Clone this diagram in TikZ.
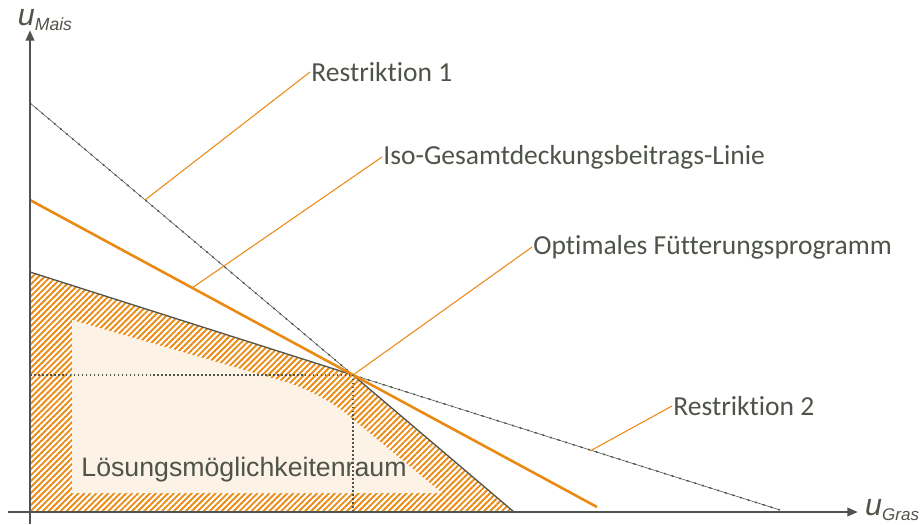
\documentclass[tikz,border=0pt]{standalone}
\usepackage{fontspec}
\setmainfont{Carlito}[Ligatures=NoCommon]
\newfontfamily\arialfont{Liberation Sans}
\usetikzlibrary{arrows.meta,patterns.meta}
\definecolor{axisgray}{HTML}{4F544C}
\definecolor{textgray}{HTML}{4E5449}
\definecolor{hatchorange}{HTML}{EB8A12}
\definecolor{creamfill}{HTML}{FDF2E6}
\begin{document}
\begin{tikzpicture}[x=0.03cm, y=-0.03cm,
    axis/.style={line width=2.2pt, axisgray, -{Triangle[length=9pt, width=7pt]}},
    bound/.style={axisgray, line width=1.1pt},
    restr/.style={axisgray, line width=0.5pt},
    restrdots/.style={axisgray, line width=1.4pt, line cap=round, dash pattern=on 0.8pt off 6pt},
    leader/.style={hatchorange, line width=0.9pt},
    tagtext/.style={anchor=west, textgray, inner sep=1pt, font=\fontsize{23.5}{26}\selectfont}]
    \useasboundingbox (0, 0) rectangle (923, 524);
    % feasible region
    \fill[pattern={Lines[angle=45, distance=3.6pt, line width=1.6pt]}, pattern color=hatchorange]
        (30, 272) -- (353, 375) -- (514, 512) -- (30, 512) -- cycle;
    \fill[creamfill] (72, 320) [rounded corners=30pt] -- (320, 392) [sharp corners] -- (442, 493) -- (72, 493) -- cycle;
    % restrictions
    \draw[bound] (30, 272) -- (353, 375) -- (514, 512);
    \draw[restr] (30, 103) -- (353, 375);
    \draw[restrdots] (30, 103) -- (353, 375);
    \draw[restr] (353, 375) -- (780, 510);
    \draw[restrdots] (353, 375) -- (780, 510);
    % iso line
    \draw[hatchorange, line width=2.2pt] (30, 200) -- (597, 507);
    % optimum
    \coordinate (opt) at (353, 375);
    \draw[axisgray, line width=1.4pt, dotted] (30, 375) -- (opt) -- (353, 512);
    % axes
    \coordinate (origin) at (30, 512);
    \draw[axis] (8, 512) -- (858, 512);
    \draw[axis] (30, 524) -- (30, 30);
    \node[textgray, font=\arialfont\itshape, inner sep=0pt] (ymais) at (45, 20)
        {\fontsize{26}{26}\selectfont u\raisebox{-5pt}{\fontsize{15}{15}\selectfont Mais}};
    \node[textgray, font=\arialfont\itshape, inner sep=0pt, anchor=west] (xgras) at (865, 510)
        {\fontsize{26}{26}\selectfont u\raisebox{-5pt}{\fontsize{14.5}{15}\selectfont Gras}};
    % labels
    \node[tagtext] (r1) at (310, 72) {Restriktion 1};
    \node[tagtext] (iso) at (382, 157) {Iso-Gesamtdeckungsbeitrags-Linie};
    \node[tagtext] (optlab) at (532, 247) {Optimales Fütterungsprogramm};
    \node[tagtext] (r2) at (672, 406) {Restriktion 2};
    \coordinate (r1foot) at (145, 200);
    \coordinate (isofoot) at (192, 288);
    \coordinate (r2foot) at (590, 451);
    \draw[leader] (r1foot) -- (r1.west);
    \draw[leader] (isofoot) -- (iso.west);
    \draw[leader] (opt) -- (optlab.west);
    \draw[leader] (r2foot) -- (r2.west);
    \node[textgray, font=\arialfont\fontsize{22.8}{25}\selectfont] (feas) at (244, 470) {Lösungsmöglichkeitenraum};
\end{tikzpicture}
\end{document}
